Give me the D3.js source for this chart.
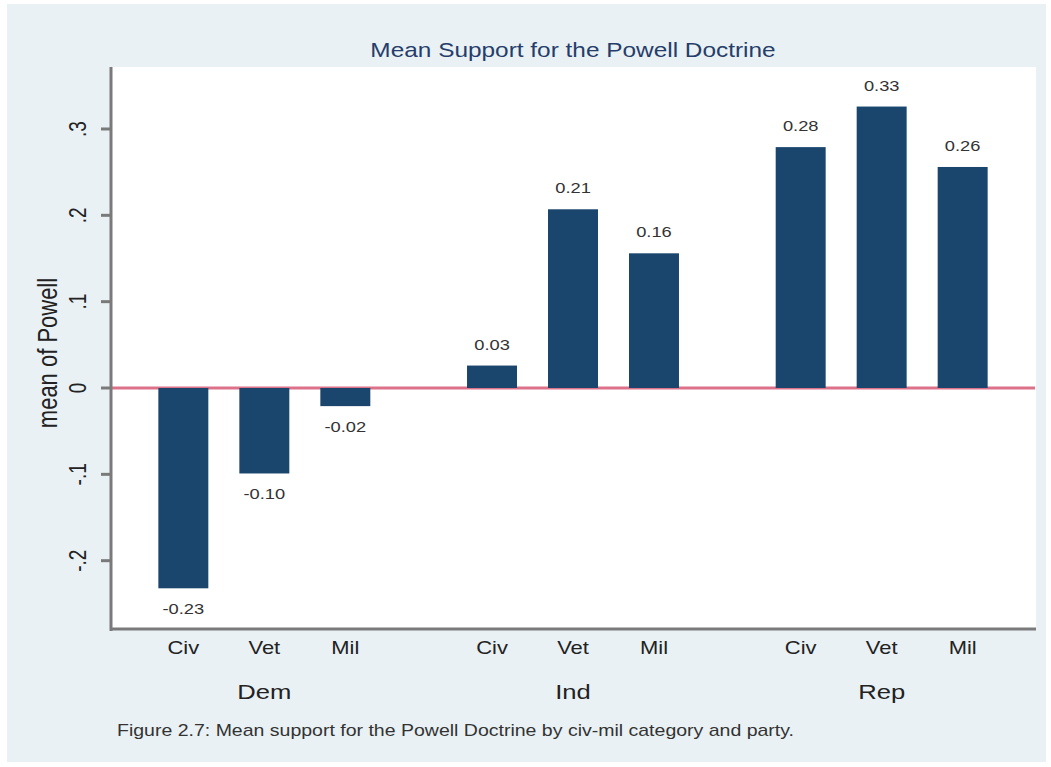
<!DOCTYPE html>
<html>
<head>
<meta charset="utf-8">
<script src="https://cdn.jsdelivr.net/npm/d3@7"></script>
<style>
  body { margin: 0; background: #fff; }
  text { font-family: "Liberation Sans", Arial, Helvetica, sans-serif; }
</style>
</head>
<body>
<svg width="1051" height="767"></svg>
<script>
// categories
const parties = ["Dem", "Ind", "Rep"]
const groups = ["Civ", "Vet", "Mil"]

// mean of Powell
const demValues = [-0.232, -0.099, -0.021]
const indValues = [0.026, 0.207, 0.156]
const repValues = [0.279, 0.326, 0.256]

const yTicks = [-0.2, -0.1, 0, 0.1, 0.2, 0.3]

const title = "Mean Support for the Powell Doctrine"
const yTitle = "mean of Powell"
const caption = "Figure 2.7: Mean support for the Powell Doctrine by civ-mil category and party."

const svg = d3.select("svg")
const SX = 1.22 // the original picture is stretched sideways

const plot = {left: 110, right: 1036, top: 67, bottom: 630}

const data = []
const seriesByParty = {Dem: demValues, Ind: indValues, Rep: repValues}
parties.forEach(p => {
    groups.forEach((g, i) => data.push({party: p, group: g, value: seriesByParty[p][i]}))
})

// plain hyphen for negatives, like the original
const locale = d3.formatLocale({decimal: ".", thousands: ",", grouping: [3], currency: ["", ""], minus: "-"})

// background panel
svg.append("rect")
    .attr("x", 7).attr("y", 4)
    .attr("width", 1039).attr("height", 758)
    .attr("fill", "#e9f1f4")

svg.append("rect")
    .attr("x", plot.left).attr("y", plot.top)
    .attr("width", plot.right - plot.left).attr("height", plot.bottom - plot.top)
    .attr("fill", "#fff")

const xOuter = d3.scaleBand()
    .domain(parties)
    .range([plot.left, plot.right])

const xInner = d3.scaleBand()
    .domain(groups)
    .range([0, xOuter.bandwidth()])
    .paddingInner(0.383)
    .paddingOuter(0.597)

const yScale = d3.scaleLinear()
    .domain([-0.2803, 0.3718])
    .range([plot.bottom, plot.top])

const stretched = (sel, x, y, rot) =>
    sel.attr("transform", `translate(${x},${y}) scale(${SX},1)` + (rot ? ` rotate(${rot})` : ""))

// zero line
svg.append("line")
    .attr("x1", plot.left).attr("x2", plot.right - 1)
    .attr("y1", yScale(0)).attr("y2", yScale(0))
    .attr("stroke", "#dc7189")
    .attr("stroke-width", 3)

// bars
svg.append("g").selectAll("rect")
    .data(data)
    .enter().append("rect")
    .attr("x", d => xOuter(d.party) + xInner(d.group))
    .attr("width", xInner.bandwidth())
    .attr("y", d => yScale(Math.max(0, d.value)))
    .attr("height", d => Math.abs(yScale(d.value) - yScale(0)))
    .attr("fill", "#1a466e")

// value labels
const fmt = locale.format(".2f")
svg.append("g").selectAll("text")
    .data(data)
    .enter().append("text")
    .attr("text-anchor", "middle")
    .attr("font-size", 15)
    .attr("fill", "#333")
    .each(function (d) {
        const cx = xOuter(d.party) + xInner(d.group) + xInner.bandwidth() / 2
        const cy = d.value >= 0 ? yScale(d.value) - 16 : yScale(d.value) + 26
        stretched(d3.select(this), cx, cy)
    })
    .text(d => fmt(d.value))

// y axis
const yAxis = svg.append("g")
yAxis.append("line")
    .attr("x1", plot.left + 1).attr("x2", plot.left + 1)
    .attr("y1", plot.top).attr("y2", plot.bottom + 1)
    .attr("stroke", "#7a7a7a").attr("stroke-width", 3)
yAxis.selectAll(".tick")
    .data(yTicks)
    .enter().append("line")
    .attr("x1", plot.left - 9).attr("x2", plot.left)
    .attr("y1", d => yScale(d)).attr("y2", d => yScale(d))
    .attr("stroke", "#7a7a7a").attr("stroke-width", 3)
const tickFmt = d => d === 0 ? "0" : locale.format(".1f")(d).replace("0.", ".")
yAxis.selectAll("text")
    .data(yTicks)
    .enter().append("text")
    .attr("text-anchor", "middle")
    .attr("font-size", 19)
    .attr("dy", "0.35em")
    .attr("fill", "#222")
    .each(function (d) { stretched(d3.select(this), 78, yScale(d), -90) })
    .text(tickFmt)

stretched(svg.append("text"), 48, 353, -90)
    .attr("text-anchor", "middle")
    .attr("dy", "0.35em")
    .attr("font-size", 22)
    .attr("fill", "#222")
    .text(yTitle)

// x axis
svg.append("line")
    .attr("x1", plot.left).attr("x2", plot.right)
    .attr("y1", plot.bottom - 1).attr("y2", plot.bottom - 1)
    .attr("stroke", "#7a7a7a").attr("stroke-width", 3)

svg.append("g").selectAll("text")
    .data(data)
    .enter().append("text")
    .attr("text-anchor", "middle")
    .attr("font-size", 18)
    .attr("fill", "#222")
    .each(function (d) {
        stretched(d3.select(this), xOuter(d.party) + xInner(d.group) + xInner.bandwidth() / 2, 654)
    })
    .text(d => d.group)

svg.append("g").selectAll("text")
    .data(parties)
    .enter().append("text")
    .attr("text-anchor", "middle")
    .attr("font-size", 21)
    .attr("fill", "#222")
    .each(function (d) { stretched(d3.select(this), xOuter(d) + xOuter.bandwidth() / 2, 699) })
    .text(d => d)

// title and caption
stretched(svg.append("text"), (plot.left + plot.right) / 2, 57)
    .attr("text-anchor", "middle")
    .attr("font-size", 20)
    .attr("fill", "#263d6b")
    .text(title)

stretched(svg.append("text"), 117, 736)
    .attr("font-size", 16)
    .attr("fill", "#333")
    .text(caption)
</script>
</body>
</html>
